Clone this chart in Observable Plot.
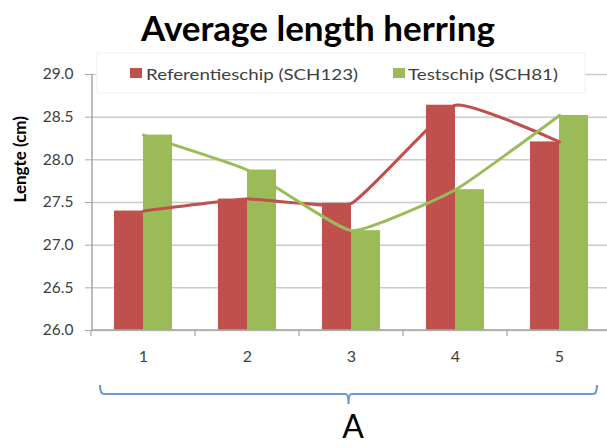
<!DOCTYPE html>
<html><head><meta charset="utf-8">
<script src="https://cdn.jsdelivr.net/npm/d3@7"></script>
<script src="https://cdn.jsdelivr.net/npm/@observablehq/plot@0.6"></script>
<style>body{margin:0;background:#fff} svg{font-family:Lato, "Open Sans", sans-serif}</style>
</head><body><div id="chart"></div>
<script>
const categories = ["1", "2", "3", "4", "5"];
const seriesNames = ["Referentieschip (SCH123)", "Testschip (SCH81)"];
const referentie = [27.40, 27.54, 27.49, 28.64, 28.21];
const testschip = [28.29, 27.88, 27.17, 27.65, 28.52];
const yTicks = [26.0, 26.5, 27.0, 27.5, 28.0, 28.5, 29.0];
const seriesColors = ["#C0504D", "#9BBB59"];
const titleText = "Average length herring";
const yLabel = "Lengte (cm)";
const groupLabel = "A";

const refRows = categories.map((c, i) => ({cat: c, value: referentie[i]}));
const testRows = categories.map((c, i) => ({cat: c, value: testschip[i]}));
const base = yTicks[0];

function decor(index, scales, values, dims) {
  const {width, height, marginLeft, marginTop, marginBottom} = dims;
  const x = scales.x;
  const y0 = height - marginBottom;
  const g = d3.create("svg:g");
  // axis lines
  g.append("line").attr("x1", marginLeft).attr("x2", marginLeft).attr("y1", marginTop).attr("y2", y0)
    .attr("stroke", "#a6a6a6").attr("stroke-width", 1.5);
  g.append("line").attr("x1", marginLeft).attr("x2", width).attr("y1", y0).attr("y2", y0)
    .attr("stroke", "#a6a6a6").attr("stroke-width", 1.5);
  // category boundary ticks
  for (const c of categories) {
    const xs = x(c);
    g.append("line").attr("x1", xs).attr("x2", xs).attr("y1", y0).attr("y2", y0 + 6)
      .attr("stroke", "#a6a6a6").attr("stroke-width", 1.2);
  }
  // legend box
  g.append("rect").attr("x", 97).attr("y", 53).attr("width", 488).attr("height", 40)
    .attr("fill", "#fff").attr("stroke", "#f0f0f0");
  const items = [[130, 146, 212], [393, 408, 150]];
  seriesNames.forEach((name, i) => {
    g.append("rect").attr("x", items[i][0]).attr("y", 68).attr("width", 12).attr("height", 10).attr("fill", seriesColors[i]);
    g.append("text").attr("x", items[i][1]).attr("y", 74).attr("dy", "0.35em").attr("text-anchor", "start")
      .attr("font-size", 16).attr("fill", "#404040")
      .attr("textLength", items[i][2]).attr("lengthAdjust", "spacingAndGlyphs").text(name);
  });
  // brace
  const L = marginLeft + 8, R = width - 10, yb = y0 + 64, mid = (L + R) / 2;
  g.append("path")
    .attr("d", `M${L},${yb - 9} Q${L},${yb} ${L + 4},${yb} L${mid - 3},${yb} Q${mid},${yb} ${mid},${yb + 10} Q${mid},${yb} ${mid + 3},${yb} L${R - 4},${yb} Q${R},${yb} ${R},${yb - 9}`)
    .attr("fill", "none").attr("stroke", "#6f9bd1").attr("stroke-width", 2.2);
  return g.node();
}

const chart = Plot.plot({
  width: 607,
  height: 448,
  marginLeft: 92,
  marginRight: 0,
  marginTop: 74,
  marginBottom: 118,
  style: {fontFamily: "Lato, 'Open Sans', sans-serif", background: "#fff", overflow: "hidden"},
  x: {type: "band", domain: categories, range: [91, 611], paddingInner: 0, paddingOuter: 0, round: false},
  y: {domain: [yTicks[0], yTicks[yTicks.length - 1]]},
  marks: [
    Plot.gridY(yTicks, {stroke: "#cccccc", strokeOpacity: 1, strokeWidth: 1.5}),
    Plot.barY(refRows, {x: "cat", y1: () => base, y2: "value", fill: seriesColors[0], insetLeft: 23, insetRight: 52}),
    Plot.barY(testRows, {x: "cat", y1: () => base, y2: "value", fill: seriesColors[1], insetLeft: 52, insetRight: 23}),
    Plot.lineY(refRows, {x: "cat", y: "value", stroke: seriesColors[0], strokeWidth: 3, curve: "cardinal", tension: 0.6}),
    Plot.lineY(testRows, {x: "cat", y: "value", stroke: seriesColors[1], strokeWidth: 3, curve: "cardinal", tension: 0.6}),
    Plot.axisY({ticks: yTicks, tickFormat: d3.format(".1f"), tickSize: 7, tickPadding: 12, fontSize: 15.5, stroke: "#a6a6a6", fill: "#404040", label: null}),
    Plot.axisX({tickSize: 0, tickPadding: 20, fontSize: 16, fill: "#404040", label: null}),
    decor,
    Plot.text([titleText], {frameAnchor: "top", dx: -32, dy: -58, fontSize: 35, fontWeight: "bold", fill: "#000", text: d => d}),
    Plot.text([yLabel], {frameAnchor: "left", dx: -72, rotate: -90, fontSize: 17, fontWeight: "bold", fill: "#000", text: d => d}),
    Plot.text([groupLabel], {frameAnchor: "bottom", dx: 3, dy: 107, fontSize: 32, fill: "#000", text: d => d})
  ]
});
document.getElementById("chart").appendChild(chart);
</script>
</body></html>
